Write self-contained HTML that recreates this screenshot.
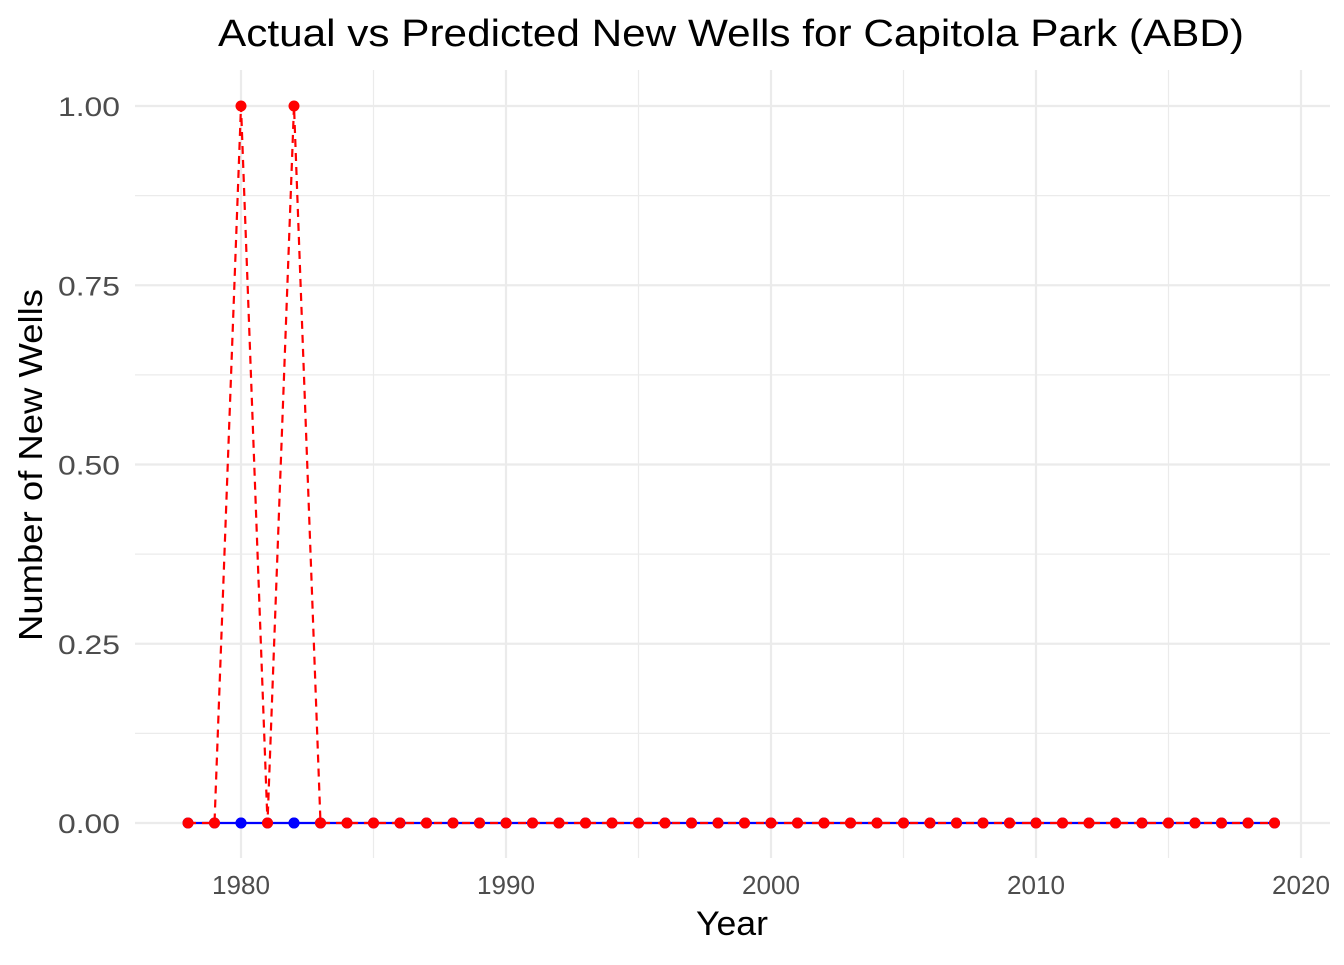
<!DOCTYPE html>
<html><head><meta charset="utf-8"><style>
body{margin:0;background:#fff;}
svg{font-family:"Liberation Sans",sans-serif;}
</style></head><body>
<svg id="chart" width="1344" height="960">
<text x="731" y="46" font-size="38" text-anchor="middle" textLength="1026" lengthAdjust="spacingAndGlyphs" fill="#000">Actual vs Predicted New Wells for Capitola Park (ABD)</text>
<g id="grid"></g>
<g id="series"></g>
<g id="axes"></g>
<text x="732" y="935" font-size="34" text-anchor="middle" textLength="72" lengthAdjust="spacingAndGlyphs">Year</text>
<text transform="translate(42,465) rotate(-90)" font-size="33" text-anchor="middle" textLength="352" lengthAdjust="spacingAndGlyphs">Number of New Wells</text>
</svg>
<script>
const years=[];for(let y=1978;y<=2019;y++)years.push(y);
const actual=years.map(()=>0);
const predicted=[0,0,1,0,1,0,0,0,0,0,0,0,0,0,0,0,0,0,0,0,0,0,0,0,0,0,0,0,0,0,0,0,0,0,0,0,0,0,0,0,0,0];
const xTicks=[1980,1990,2000,2010,2020];
const yTicks=[0,0.25,0.5,0.75,1];
const yLabels=["0.00","0.25","0.50","0.75","1.00"];
const NS="http://www.w3.org/2000/svg";
const sx=v=>241+(v-1980)*26.5;
const sy=v=>823-v*717;
const L=135,R=1330,T=70,B=858;
function mk(t,a,p){const e=document.createElementNS(NS,t);for(const k in a)e.setAttribute(k,a[k]);p.appendChild(e);return e;}
const g=document.getElementById('grid'),s=document.getElementById('series'),ax=document.getElementById('axes');
for(let v=1980;v<=2020;v+=5){const l=mk('line',{x1:sx(v),x2:sx(v),y1:T,y2:B,stroke:'#ebebeb','stroke-width':v%10?1.2:2.2},g);

}
for(let v=0;v<=1.05;v+=0.125){const major=Math.abs(v*4-Math.round(v*4))<1e-6;const l=mk('line',{x1:L,x2:R,y1:sy(v),y2:sy(v),stroke:'#ebebeb','stroke-width':major?2.2:1.2},g);

}
xTicks.forEach(v=>{const t=mk('text',{x:sx(v),y:894,'font-size':26,'text-anchor':'middle',fill:'#4d4d4d',textLength:58,lengthAdjust:'spacingAndGlyphs'},ax);t.textContent=v;

});
yTicks.forEach((v,i)=>{const t=mk('text',{x:120,y:sy(v)+10,'font-size':27,'text-anchor':'end',fill:'#4d4d4d',textLength:62,lengthAdjust:'spacingAndGlyphs'},ax);t.textContent=yLabels[i];

});
const pa=years.map((y,i)=>sx(y)+','+sy(actual[i])).join(' ');
const la=mk('polyline',{points:pa,fill:'none',stroke:'#0000ff','stroke-width':2.2},s);


years.forEach((y,i)=>{const c=mk('circle',{cx:sx(y),cy:sy(actual[i]),r:5.5,fill:'#0000ff'},s);

});
const pp=years.map((y,i)=>sx(y)+','+sy(predicted[i])).join(' ');
const lp=mk('polyline',{points:pp,fill:'none',stroke:'#ff0000','stroke-width':2.2,'stroke-dasharray':'8,6'},s);


years.forEach((y,i)=>{const c=mk('circle',{cx:sx(y),cy:sy(predicted[i]),r:5.5,fill:'#ff0000'},s);

});
years.forEach((y,i)=>{if(predicted[i]===actual[i])return;const c=mk('circle',{cx:sx(y),cy:sy(actual[i]),r:5.5,fill:'#0000ff'},s);

});
</script>
</body></html>
